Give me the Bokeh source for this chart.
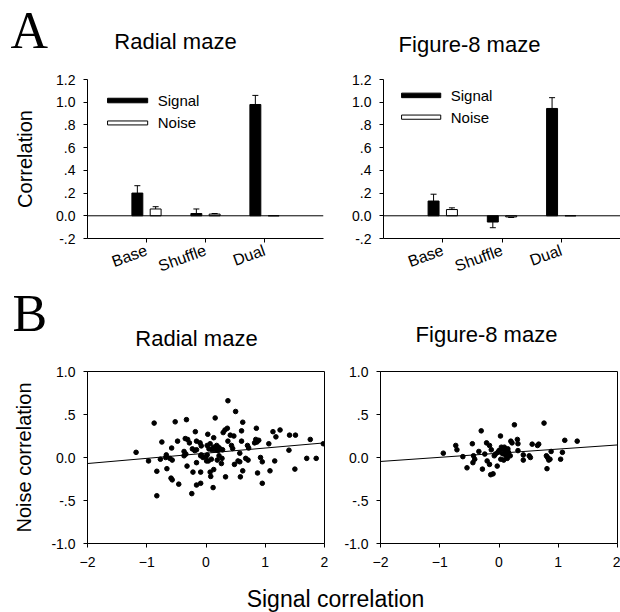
import numpy as np
from bokeh.plotting import figure
from bokeh.models import Label, Span, FixedTicker
from bokeh.layouts import column, row
from bokeh.embed import file_html
from bokeh.resources import INLINE
from bokeh.core.properties import value

FONT = "Liberation Sans"
SERIF = "Liberation Serif"

# ---------------- data ----------------
categories = ["Base", "Shuffle", "Dual"]
radial_signal = [0.20, 0.02, 0.98]
radial_signal_err = [0.065, 0.04, 0.08]
radial_noise = [0.06, 0.015, 0.0]
radial_noise_err = [0.02, 0.005, 0.0]
fig8_signal = [0.13, -0.055, 0.945]
fig8_signal_err = [0.06, 0.05, 0.095]
fig8_noise = [0.055, -0.01, 0.0]
fig8_noise_err = [0.015, 0.005, 0.0]

bar_y_ticks = [-0.2, 0.0, 0.2, 0.4, 0.6, 0.8, 1.0, 1.2]
bar_y_labels = ["-.2", "0.0", ".2", ".4", ".6", ".8", "1.0", "1.2"]

scatter_x_ticks = [-2, -1, 0, 1, 2]
scatter_y_ticks = [-1.0, -0.5, 0.0, 0.5, 1.0]
scatter_y_labels = ["-1.0", "-.5", "0.0", ".5", "1.0"]

radial_pts = [
    (-1.18, 0.06), (-0.97, -0.04), (-0.875, 0.40), (-0.83, -0.16), (-0.83, -0.445),
    (-0.77, -0.02), (-0.745, 0.18), (-0.68, 0.00), (-0.67, 0.03), (-0.66, -0.13),
    (-0.61, -0.01), (-0.58, 0.11), (-0.57, -0.03), (-0.59, -0.24), (-0.57, -0.26),
    (-0.52, 0.415), (-0.48, 0.19), (-0.46, -0.31), (-0.37, 0.07), (-0.37, 0.02),
    (-0.35, 0.22), (-0.34, 0.04), (-0.33, 0.44), (-0.32, -0.10), (-0.31, 0.21),
    (-0.28, 0.17), (-0.24, -0.42), (-0.23, 0.10), (-0.22, -0.17), (-0.19, 0.08),
    (-0.18, 0.30), (-0.16, 0.19), (-0.16, 0.09), (-0.16, -0.06), (-0.16, -0.32),
    (-0.10, 0.17), (-0.09, -0.30), (-0.09, -0.17), (-0.08, 0.135), (-0.08, 0.03),
    (-0.05, 0.00),
    (0.37, 0.66), (0.50, 0.535), (0.155, 0.46), (0.62, 0.41), (0.85, 0.34),
    (1.13, 0.30), (1.25, 0.32), (1.18, 0.24), (1.41, 0.26), (1.51, 0.26),
    (1.76, 0.21), (0.03, 0.27), (0.29, 0.29), (0.32, 0.32), (0.36, 0.34),
    (0.60, 0.31), (0.41, 0.26), (0.47, 0.25), (0.13, 0.23), (0.37, 0.19),
    (0.60, 0.19), (0.84, 0.21), (0.86, 0.18), (0.89, 0.20), (0.82, 0.17),
    (1.06, 0.16),
    (0.02, 0.14), (0.07, 0.16), (0.13, 0.12), (0.18, 0.14), (0.21, 0.12),
    (0.24, 0.10), (0.16, 0.09), (0.20, 0.08), (0.28, 0.09), (0.10, 0.09),
    (0.05, 0.10),
    (0.45, 0.105), (0.70, 0.14), (0.72, 0.11), (1.40, 0.085), (0.57, 0.05),
    (-0.09, 0.02), (0.00, 0.01), (0.02, 0.03), (0.04, -0.04), (0.09, -0.02),
    (0.01, -0.04),
    (0.67, -0.01), (0.71, -0.03), (0.54, -0.04), (0.57, -0.05), (0.92, 0.00),
    (0.95, -0.05), (1.16, -0.04), (1.70, -0.01), (1.86, -0.01),
    (0.26, -0.07), (0.48, -0.08), (0.62, -0.155), (0.87, -0.18), (1.08, -0.155),
    (1.50, -0.135),
    (0.07, -0.17), (0.08, -0.22), (0.13, -0.14), (0.33, -0.225), (0.58, -0.225),
    (0.12, -0.35), (0.95, -0.30),
    (0.22, 0.02), (0.27, -0.01), (0.19, -0.03), (1.98, 0.16), (0.43, 0.14),
]
fig8_pts = [
    (-0.94, 0.05), (-0.73, 0.14), (-0.71, 0.09), (-0.61, 0.01), (-0.54, -0.12),
    (-0.45, 0.16), (-0.43, 0.02), (-0.41, -0.02), (-0.44, -0.06), (-0.34, 0.07),
    (-0.30, 0.31), (-0.28, -0.135), (-0.24, 0.04), (-0.21, 0.17), (-0.20, -0.04),
    (-0.16, -0.08), (-0.14, -0.20), (-0.10, -0.19), (-0.16, 0.14), (-0.13, 0.09),
    (0.025, 0.25), (-0.03, -0.10),
    (-0.06, 0.04), (0.00, 0.08), (0.04, 0.12), (0.055, 0.10), (0.08, 0.04),
    (0.11, 0.08), (0.15, 0.10), (0.16, 0.06), (0.13, 0.00), (0.03, -0.02),
    (0.08, -0.03),
    (0.26, 0.38), (0.20, 0.19), (0.22, 0.17), (0.31, 0.21), (0.32, 0.16),
    (0.32, 0.08), (0.19, 0.02), (0.41, 0.03), (0.41, -0.03), (0.51, 0.02),
    (0.53, 0.00), (0.56, 0.155), (0.65, 0.14), (0.67, 0.155), (0.76, 0.40),
    (0.80, 0.02), (0.82, 0.00), (0.84, -0.03), (0.86, -0.02), (0.81, -0.13),
    (0.88, 0.07), (1.04, -0.02), (1.07, 0.06), (1.11, 0.20), (1.32, 0.19),
    (0.05, 0.05), (0.12, 0.03), (-0.02, 0.06), (0.09, 0.12), (0.14, -0.01),
    (-0.08, 0.02),
]
radial_x = [p[0] for p in radial_pts]
radial_y = [p[1] for p in radial_pts]
fig8_x = [p[0] for p in fig8_pts]
fig8_y = [p[1] for p in fig8_pts]

radial_fit = {"intercept": 0.05, "slope": 0.06}
fig8_fit = {"intercept": 0.05, "slope": 0.048}


def style_axes(p, tick_size="14px"):
    p.grid.visible = False
    for ax in p.axis:
        ax.axis_line_color = "black"
        ax.major_tick_line_color = "black"
        ax.minor_tick_line_color = None
        ax.major_tick_out = 4
        ax.major_tick_in = 0
        ax.major_label_text_font = FONT
        ax.major_label_text_font_size = tick_size
        ax.major_label_text_color = "black"
        ax.axis_label_text_font = FONT
        ax.axis_label_text_font_style = "normal"
        ax.axis_label_text_color = "black"


def strip(width, height):
    """A bare canvas whose data units are pixels (y counted from the top)."""
    p = figure(width=width, height=height, x_range=(0, width), y_range=(height, 0),
               output_backend="svg", toolbar_location=None, title=None,
               x_axis_type=None, y_axis_type=None, min_border=0)
    p.outline_line_color = None
    p.grid.visible = False
    return p


def add_text(p, text, x, y, size, font=FONT, align="left"):
    # y is the vertical middle of the text box
    p.add_layout(Label(x=x, y=y, text=text, text_font=font, text_font_size=size,
                       text_color="black", text_align=align, text_baseline="middle"))


def bar_panel(width, bl, br, signal, s_err, noise, n_err, legend, ylabel=None):
    p = figure(width=width, height=225, x_range=(0, 4), y_range=(-0.2, 1.2),
               output_backend="svg", toolbar_location=None, title=None,
               min_border_left=bl, min_border_right=br,
               min_border_top=19, min_border_bottom=46)
    p.outline_line_color = None
    pos = np.arange(1, len(categories) + 1)
    off, w = 0.155, 0.185
    p.vbar(x=pos - off, top=signal, bottom=0, width=w,
           fill_color="black", line_color="black")
    p.vbar(x=pos + off, top=noise, bottom=0, width=w,
           fill_color="white", line_color="black")
    for vals, errs, o in ((signal, s_err, -off), (noise, n_err, off)):
        v = np.array(vals)
        e = np.array(errs)
        end = v + np.where(v < 0, -1, 1) * e
        m = e > 0
        xs = (pos + o)[m]
        p.segment(x0=xs, y0=v[m], x1=xs, y1=end[m], line_color="black", line_width=1)
        p.scatter(x=xs, y=end[m], marker="dash", size=6, line_color="black", line_width=1)
    p.add_layout(Span(location=0, dimension="width", line_color="black", line_width=1))

    # legend
    lx0, lx1, tx, (sy0, sy1), (ny0, ny1) = legend
    p.quad(left=[lx0], right=[lx1], bottom=[sy0], top=[sy1],
           fill_color="black", line_color="black")
    p.quad(left=[lx0], right=[lx1], bottom=[ny0], top=[ny1],
           fill_color="white", line_color="black")
    p.text(x=[tx, tx], y=[(sy0 + sy1) / 2, (ny0 + ny1) / 2], text=["Signal", "Noise"],
           text_font=value(FONT), text_font_size="15px", text_baseline="middle",
           text_color="black")

    style_axes(p)
    p.xaxis.ticker = FixedTicker(ticks=[int(i) for i in pos])
    p.xaxis.major_label_overrides = {int(i): c for i, c in zip(pos, categories)}
    p.xaxis.major_label_orientation = 0.35
    p.xaxis.major_label_text_font_size = "16px"
    p.xaxis.major_label_standoff = 7
    p.yaxis.ticker = FixedTicker(ticks=bar_y_ticks)
    p.yaxis.major_label_overrides = {t: l for t, l in zip(bar_y_ticks, bar_y_labels)}
    p.yaxis.major_label_standoff = 8
    if ylabel:
        p.yaxis.axis_label = ylabel
        p.yaxis.axis_label_text_font_size = "20px"
        p.yaxis.axis_label_standoff = 17
    return p


def scatter_panel(width, bl, br, xs, ys, fit, ylabel=None):
    p = figure(width=width, height=220, x_range=(-2, 2), y_range=(-1, 1),
               output_backend="svg", toolbar_location=None, title=None,
               min_border_left=bl, min_border_right=br,
               min_border_top=16, min_border_bottom=32)
    p.outline_line_color = "black"
    p.outline_line_width = 1
    p.scatter(x=xs, y=ys, size=4.6, fill_color="black", line_color="black")
    lx = np.array([-2.0, 2.0])
    p.line(x=lx, y=fit["intercept"] + fit["slope"] * lx, line_color="black", line_width=1)
    style_axes(p)
    p.xaxis.ticker = FixedTicker(ticks=scatter_x_ticks)
    p.xaxis.major_label_standoff = 9
    p.yaxis.ticker = FixedTicker(ticks=scatter_y_ticks)
    p.yaxis.major_label_overrides = {t: l for t, l in zip(scatter_y_ticks, scatter_y_labels)}
    p.yaxis.major_label_standoff = 8
    if ylabel:
        p.yaxis.axis_label = ylabel
        p.yaxis.axis_label_text_font_size = "20px"
        p.yaxis.axis_label_standoff = 13
    return p


# ---------------- panel A ----------------
head_a = strip(620, 60)
add_text(head_a, "A", 10, 29.5, "52px", font=SERIF)
add_text(head_a, "Radial maze", 175, 40.8, "22px", align="center")
add_text(head_a, "Figure-8 maze", 469, 44.3, "22px", align="center")

a1 = bar_panel(333, 87, 10, radial_signal, radial_signal_err, radial_noise, radial_noise_err,
               (0.34, 1.02, 1.19, (0.995, 1.035), (0.80, 0.835)), ylabel="Correlation")
a2 = bar_panel(287, 50, 0, fig8_signal, fig8_signal_err, fig8_noise, fig8_noise_err,
               (0.305, 0.966, 1.135, (1.04, 1.08), (0.85, 0.887)))

# ---------------- panel B ----------------
head_b = strip(620, 70)
add_text(head_b, "B", 12, 27.5, "52px", font=SERIF)
add_text(head_b, "Radial maze", 196, 53.3, "22px", align="center")
add_text(head_b, "Figure-8 maze", 486, 49.3, "22px", align="center")

b1 = scatter_panel(334, 87, 10, radial_x, radial_y, radial_fit, ylabel="Noise correlation")
b2 = scatter_panel(286, 46, 3, fig8_x, fig8_y, fig8_fit)

# ---------------- shared x label ----------------
foot = strip(620, 37)
add_text(foot, "Signal correlation", 335, 23, "23px", align="center")

layout = column(head_a, row(a1, a2), head_b, row(b1, b2), foot)
open("out.html", "w").write(file_html(layout, INLINE))
